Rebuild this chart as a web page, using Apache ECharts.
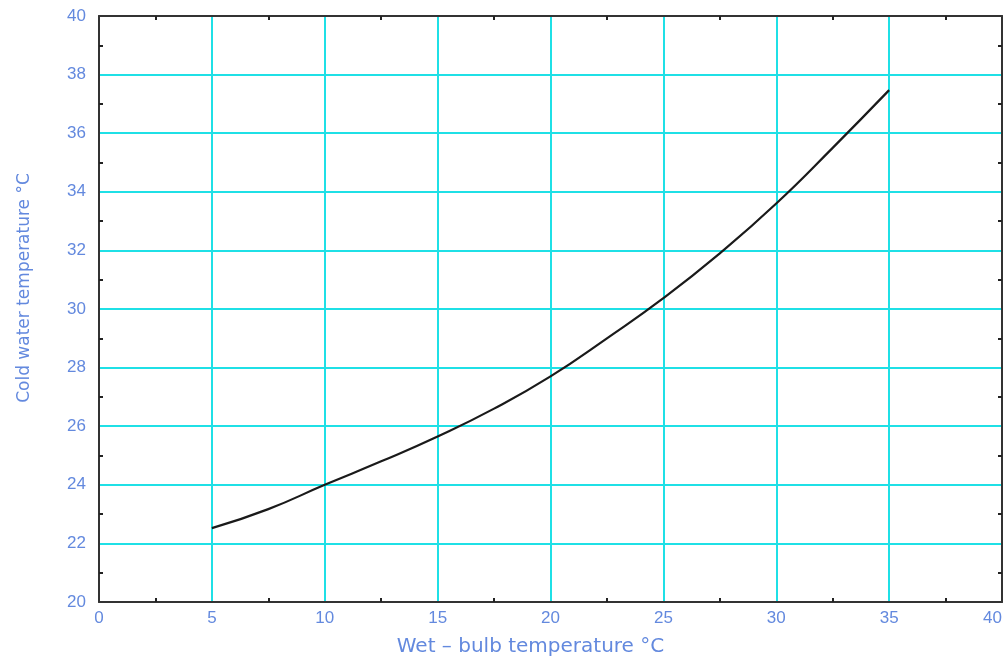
<!DOCTYPE html>
<html>
<head>
<meta charset="utf-8">
<script src="https://cdn.jsdelivr.net/npm/echarts@6/dist/echarts.min.js"></script>
<style>
  html, body { margin: 0; padding: 0; background: #fff; }
  #chart { width: 1008px; height: 659px; }
</style>
</head>
<body>
<div id="chart"></div>
<script>
// Wet-bulb temperature (°C) and the matching cold water temperature (°C)
const wetBulb = [5, 7.5, 10, 12.5, 15, 17.5, 20, 22.5, 25, 27.5, 30, 32.5, 35];
const coldWater = [22.52, 23.17, 24.0, 24.8, 25.65, 26.6, 27.7, 29.0, 30.37, 31.9, 33.6, 35.5, 37.47];

const xTitle = 'Wet – bulb temperature °C';
const yTitle = 'Cold water temperature °C';

const labelColor = '#6389de';
const tickFont = '"Liberation Sans", Arial, sans-serif';
const titleFont = '"DejaVu Sans", Verdana, sans-serif';

const points = wetBulb.map((x, i) => [x, coldWater[i]]);

const frameLine = { show: true, onZero: false, lineStyle: { color: '#333', width: 2 } };
const minor = { show: true, splitNumber: 2, length: 4, lineStyle: { color: '#222', width: 2 } };
const gridLine = { show: true, lineStyle: { color: '#1fe0e6', width: 2 } };

const chart = echarts.init(document.getElementById('chart'));
chart.setOption({
  animation: false,
  grid: { left: 99, right: 6, top: 16, bottom: 57, outerBoundsMode: 'none', containLabel: false },
  xAxis: [
    {
      type: 'value', min: 0, max: 40, interval: 5, position: 'bottom',
      name: xTitle, nameLocation: 'middle', nameGap: 35,
      nameTextStyle: { color: labelColor, fontSize: 20, fontFamily: titleFont, padding: [0, 40, 0, 0] },
      axisLine: frameLine,
      axisTick: { show: false, inside: true },
      minorTick: minor,
      axisLabel: { color: labelColor, fontSize: 17, fontFamily: tickFont, margin: 8, alignMaxLabel: 'right' },
      splitLine: gridLine
    },
    {
      type: 'value', min: 0, max: 40, interval: 5, position: 'top',
      axisLine: frameLine,
      axisTick: { show: false, inside: true },
      minorTick: minor,
      axisLabel: { show: false },
      splitLine: { show: false }
    }
  ],
  yAxis: [
    {
      type: 'value', min: 20, max: 40, interval: 2, position: 'left',
      name: yTitle, nameLocation: 'middle', nameGap: 66,
      nameTextStyle: { color: labelColor, fontSize: 17, fontFamily: titleFont, padding: [0, 0, 0, 42] },
      axisLine: frameLine,
      axisTick: { show: false, inside: true },
      minorTick: minor,
      axisLabel: { color: labelColor, fontSize: 17, fontFamily: tickFont, margin: 13 },
      splitLine: gridLine
    },
    {
      type: 'value', min: 20, max: 40, interval: 2, position: 'right',
      axisLine: frameLine,
      axisTick: { show: false, inside: true },
      minorTick: minor,
      axisLabel: { show: false },
      splitLine: { show: false }
    }
  ],
  series: [
    {
      type: 'line',
      data: points,
      smooth: true,
      showSymbol: false,
      lineStyle: { color: '#1a1a1a', width: 2.2 },
      xAxisIndex: 0,
      yAxisIndex: 0
    }
  ]
});
</script>
</body>
</html>
